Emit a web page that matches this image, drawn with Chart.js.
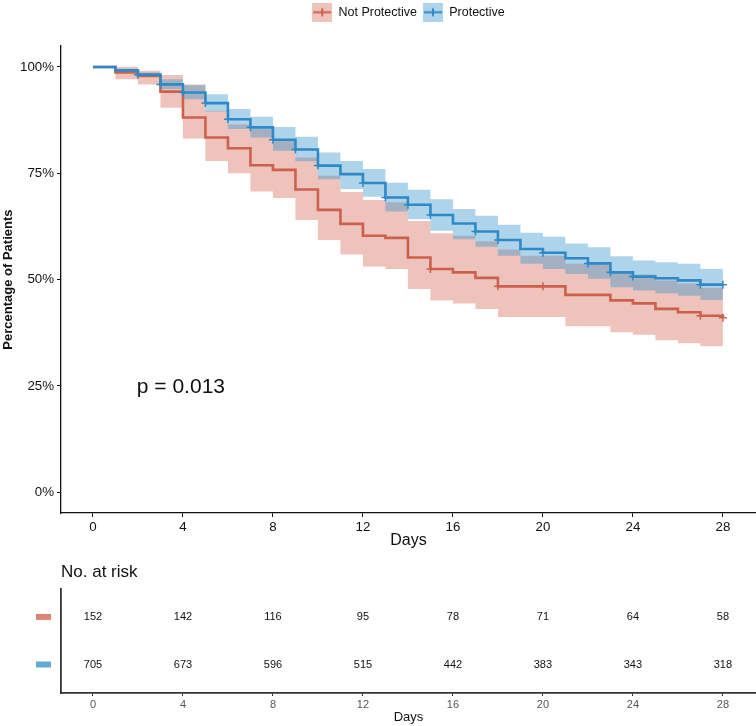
<!DOCTYPE html>
<html>
<head>
<meta charset="utf-8">
<script src="https://cdn.jsdelivr.net/npm/chart.js@4.4.1/dist/chart.umd.min.js"></script>
<style>
  html, body { margin: 0; padding: 0; background: #fff; }
  .wrap { position: relative; width: 756px; height: 726px; }
  #km { position: absolute; left: 0; top: 0; }
  #risk { position: absolute; left: 0; top: 556px; }
</style>
</head>
<body>
<div class="wrap">
  <canvas id="km" width="756" height="556"></canvas>
  <canvas id="risk" width="756" height="170"></canvas>
</div>
<script>
Chart.defaults.font.family = "'Liberation Sans', Arial, sans-serif";
Chart.defaults.color = "#111";

// survival by day (value held from day d to d+1)
const days = [0, 1, 2, 3, 4, 5, 6, 7, 8, 9, 10, 11, 12, 13, 14, 15, 16, 17, 18, 19, 20, 21, 22, 23, 24, 25, 26, 27, 28];
const notProtSurv = [100, 98.7, 97.9, 94.2, 88.1, 83.4, 80.9, 76.9, 75.8, 71.2, 66.4, 63.1, 60.3, 59.8, 55.2, 52.5, 51.7, 50.4, 48.4, 48.4, 48.4, 46.4, 46.4, 45.1, 44.4, 43.1, 42.3, 41.5, 41.0];
const notProtUpper = [100, 100, 99.1, 98.1, 95.9, 89.7, 86.5, 85.4, 82.8, 78.7, 74.4, 70.6, 68.7, 68.2, 63.8, 60.9, 60.3, 59.0, 57.1, 55.6, 55.6, 53.7, 53.7, 51.7, 51.2, 49.8, 49.1, 48.1, 48.1];
const notProtLower = [100, 97.1, 95.9, 90.4, 83.2, 77.9, 75.0, 70.7, 69.2, 64.0, 59.3, 55.9, 53.1, 52.5, 47.8, 45.1, 44.4, 43.1, 41.2, 41.2, 41.2, 39.0, 39.0, 37.6, 37.0, 35.7, 35.0, 34.3, 34.3];
const protSurv = [100, 99.2, 98.2, 95.9, 94.0, 91.5, 87.7, 85.8, 82.9, 80.6, 76.8, 74.8, 72.7, 69.3, 67.6, 65.2, 63.2, 61.3, 59.3, 57.2, 56.3, 55.0, 53.8, 51.7, 50.7, 50.3, 49.8, 48.8, 48.8];
const protUpper = [100, 99.6, 98.7, 97.1, 95.7, 93.6, 90.1, 88.3, 85.9, 83.6, 79.9, 77.9, 76.0, 72.8, 71.1, 68.9, 66.6, 65.0, 62.9, 61.0, 60.1, 58.5, 57.6, 55.5, 54.5, 54.1, 53.7, 52.5, 52.5];
const protLower = [100, 98.7, 97.7, 94.8, 92.4, 89.5, 85.4, 83.4, 80.3, 77.8, 73.6, 71.3, 69.5, 66.0, 64.2, 61.5, 59.5, 57.7, 55.6, 53.7, 52.5, 51.3, 50.2, 48.2, 47.4, 46.8, 46.2, 45.2, 45.2];

// censoring marks (days)
const notProtCensor = [15, 18, 20, 27, 28];
const protCensor = [2, 3, 4, 5, 6, 7, 8, 9, 10, 12, 13, 14, 15, 17, 18, 20, 22, 23, 24, 27, 28];

const tickDays = [0, 4, 8, 12, 16, 20, 24, 28];
const pctTicks = [0, 25, 50, 75, 100];
const groupNames = ["Not Protective", "Protective"];
const pvalText = "p = 0.013";

// numbers at risk
const riskDays = [0, 4, 8, 12, 16, 20, 24, 28];
const riskNotProt = [152, 142, 116, 95, 78, 71, 64, 58];
const riskProt = [705, 673, 596, 515, 442, 383, 343, 318];

const redLine = "#CD604C";
const blueLine = "#2E89C6";
const redBand = "rgba(209, 104, 84, 0.4)";
const blueBand = "rgba(52, 148, 205, 0.4)";
const clear = "rgba(0,0,0,0)";

const pts = vals => days.map((d, i) => ({ x: d, y: vals[i] }));
const marks = (cens, vals) => cens.map(d => ({ x: d, y: vals[days.indexOf(d)] }));

function legendIcon(fill, stroke) {
  const c = document.createElement("canvas");
  c.width = 20; c.height = 19;
  const g = c.getContext("2d");
  g.fillStyle = fill;
  g.fillRect(0, 0, 20, 19);
  g.strokeStyle = stroke;
  g.lineWidth = 2;
  g.beginPath();
  g.moveTo(1, 9.5); g.lineTo(19, 9.5);
  g.moveTo(10, 5.5); g.lineTo(10, 13.5);
  g.stroke();
  return c;
}

const band = (vals, fill, order, bg) => ({
  data: pts(vals), stepped: true, borderColor: clear, borderWidth: 0,
  pointRadius: 0, fill: fill, backgroundColor: bg || clear, order: order
});

const pvalPlugin = {
  id: "pval",
  afterDatasetsDraw(chart) {
    const { ctx, scales: { x, y } } = chart;
    ctx.save();
    ctx.font = "21px 'Liberation Sans', Arial, sans-serif";
    ctx.fillStyle = "#111";
    ctx.textBaseline = "middle";
    ctx.fillText(pvalText, x.getPixelForValue(1.95), y.getPixelForValue(24.6));
    ctx.restore();
  }
};

new Chart(document.getElementById("km"), {
  type: "line",
  data: {
    datasets: [
      { label: groupNames[1], data: pts(protSurv), stepped: true, borderColor: blueLine, borderWidth: 2.6, pointRadius: 0, fill: false, order: 1 },
      { label: groupNames[0], data: pts(notProtSurv), stepped: true, borderColor: redLine, borderWidth: 2.6, pointRadius: 0, fill: false, order: 2 },
      band(protUpper, false, 5),
      band(protLower, "-1", 3, blueBand),
      band(notProtUpper, false, 6),
      band(notProtLower, "-1", 4, redBand),
      { data: marks(protCensor, protSurv), showLine: false, pointStyle: "cross", pointRadius: 4, borderColor: blueLine, borderWidth: 1.5, order: 0 },
      { data: marks(notProtCensor, notProtSurv), showLine: false, pointStyle: "cross", pointRadius: 4, borderColor: redLine, borderWidth: 1.5, order: 0 }
    ]
  },
  options: {
    responsive: false,
    animation: false,
    layout: { autoPadding: false, padding: { left: 0, right: 0, top: 0, bottom: 0 } },
    plugins: {
      filler: { drawTime: "beforeDatasetsDraw" },
      tooltip: { enabled: false },
      legend: {
        display: true,
        position: "top",
        fullSize: false,
        labels: {
          usePointStyle: true,
          pointStyleWidth: 20,
          padding: 6,
          color: "#111",
          font: { size: 12.5 },
          generateLabels: () => [
            { text: groupNames[0], pointStyle: legendIcon(redBand, redLine), fillStyle: redBand, strokeStyle: redLine, lineWidth: 0, hidden: false, datasetIndex: 1, fontColor: "#111" },
            { text: groupNames[1], pointStyle: legendIcon(blueBand, blueLine), fillStyle: blueBand, strokeStyle: blueLine, lineWidth: 0, hidden: false, datasetIndex: 0, fontColor: "#111" }
          ]
        }
      },
      title: { display: true, text: "", weight: 500, padding: 0, font: { size: 14.7 } }
    },
    scales: {
      x: {
        type: "linear",
        min: -1.42,
        max: 29.47,
        afterBuildTicks: s => { s.ticks = tickDays.map(v => ({ value: v })); },
        afterFit: s => { s.height = 43; },
        grid: { display: true, drawOnChartArea: false, drawTicks: true, tickLength: 4, color: "#111" },
        border: { display: true, color: "#111", width: 1.3 },
        ticks: { font: { size: 13.3 }, color: "#111", padding: 2, maxRotation: 0 },
        title: { display: true, text: "Days", font: { size: 16 }, color: "#111", padding: { top: 0, bottom: 6 } }
      },
      y: {
        type: "linear",
        min: -4.9,
        max: 104.9,
        afterBuildTicks: s => { s.ticks = pctTicks.map(v => ({ value: v })); },
        afterFit: s => { s.width = 61; },
        grid: { display: true, drawOnChartArea: false, drawTicks: true, tickLength: 4, color: "#111" },
        border: { display: true, color: "#111", width: 1.3 },
        ticks: { font: { size: 13.3 }, color: "#111", padding: 3, callback: v => v + "%" },
        title: { display: true, text: "Percentage of Patients", font: { size: 13, weight: "bold" }, color: "#111", padding: { top: 1, bottom: 0 } }
      }
    }
  },
  plugins: [pvalPlugin]
});

// risk table
const riskPlugin = {
  id: "riskText",
  afterDatasetsDraw(chart) {
    const { ctx } = chart;
    const swatch = ["#DD8479", "#62ABD8"];
    ctx.save();
    ctx.font = "11px 'Liberation Sans', Arial, sans-serif";
    ctx.textAlign = "center";
    ctx.textBaseline = "middle";
    chart.data.datasets.forEach((ds, di) => {
      const meta = chart.getDatasetMeta(di);
      meta.data.forEach((p, i) => {
        ctx.fillStyle = "#111";
        ctx.fillText(String(ds.counts[i]), p.x, p.y);
      });
      const yRow = meta.data[0].y;
      ctx.fillStyle = swatch[di];
      ctx.fillRect(36, yRow - 3, 15, 6);
    });
    ctx.restore();
  }
};

new Chart(document.getElementById("risk"), {
  type: "line",
  data: {
    datasets: [
      { label: groupNames[0], counts: riskNotProt, data: riskDays.map(d => ({ x: d, y: 2 })), showLine: false, pointRadius: 0 },
      { label: groupNames[1], counts: riskProt, data: riskDays.map(d => ({ x: d, y: 1 })), showLine: false, pointRadius: 0 }
    ]
  },
  options: {
    responsive: false,
    animation: false,
    layout: { autoPadding: false, padding: { left: 0, right: 0, top: 0, bottom: 0 } },
    plugins: {
      legend: { display: false },
      tooltip: { enabled: false },
      title: {
        display: true, text: "No. at risk", align: "start", fullSize: false,
        color: "#111", font: { size: 17, weight: "normal" }, padding: { top: 6, bottom: 6 }
      }
    },
    scales: {
      x: {
        type: "linear",
        min: -1.42,
        max: 29.47,
        afterBuildTicks: s => { s.ticks = tickDays.map(v => ({ value: v })); },
        afterFit: s => { s.height = 33; },
        grid: { display: true, drawOnChartArea: false, drawTicks: true, tickLength: 3, color: "#333" },
        border: { display: true, color: "#333", width: 1.8 },
        ticks: { font: { size: 11 }, color: "#555", padding: 2, maxRotation: 0 },
        title: { display: true, text: "Days", font: { size: 13 }, color: "#111", padding: { top: 0, bottom: 1 } }
      },
      y: {
        type: "linear",
        min: 0.4,
        max: 2.6,
        afterFit: s => { s.width = 61; },
        grid: { display: false },
        border: { display: true, color: "#333", width: 1.8 },
        ticks: { display: false }
      }
    }
  },
  plugins: [riskPlugin]
});
</script>
</body>
</html>
